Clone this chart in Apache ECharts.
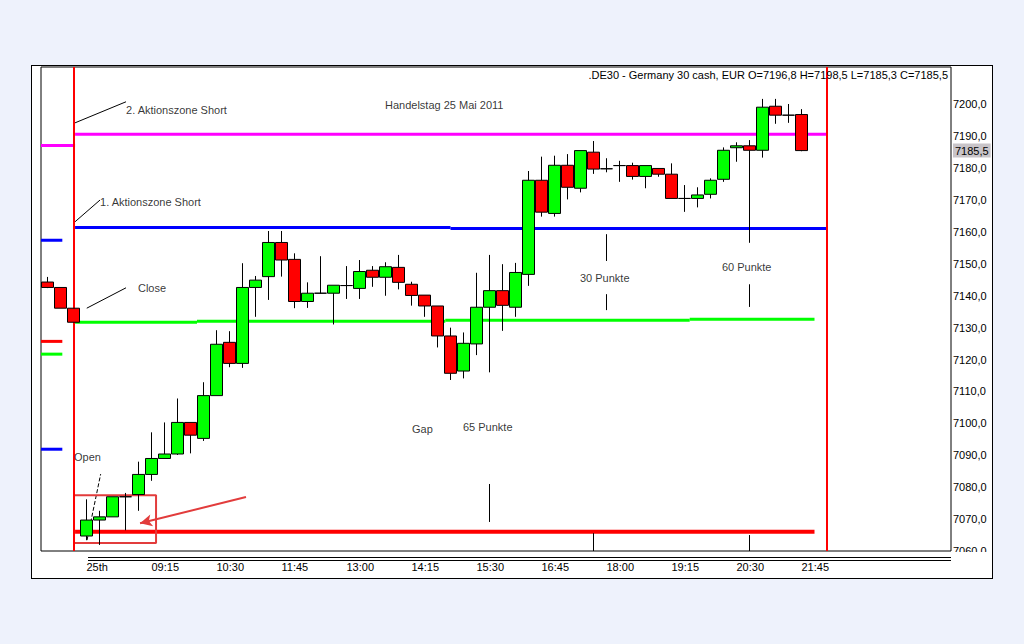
<!DOCTYPE html>
<html><head><meta charset="utf-8">
<script src="https://cdn.jsdelivr.net/npm/echarts@6/dist/echarts.min.js"></script>
<style>
html,body{margin:0;padding:0;background:#EEF2FC;width:1024px;height:644px;overflow:hidden;}
#frame{position:absolute;left:31px;top:65px;width:962px;height:514px;border:1px solid #000;background:#fff;box-sizing:border-box;}
#chart{position:absolute;left:0;top:0;width:1024px;height:644px;}
</style></head><body>
<div id="frame"></div><div id="chart"></div>
<script>
// ---- data (15-minute candles, 24 May last 3 bars + 25 May 2011 session) ----
const tickLabels = ['25th','09:15','10:30','11:45','13:00','14:15','15:30','16:45','18:00','19:15','20:30','21:45'];
const opens  = [7144.3,7142.6,7136.1,
  7064.7,7069.7,7070.7,7077.0,7077.7,7084.0,7089.0,7090.4,7100.3,7095.3,
  7108.7,7125.4,7118.8,7142.6,7146.0,7156.7,7151.4,7138.2,7140.8,7140.8,
  7143.2,7142.3,7148.0,7145.8,7148.9,7143.6,7140.2,7136.8,7127.4,7116.4,
  7124.9,7136.4,7141.6,7136.4,7146.7,7176.2,7165.8,7180.9,7173.7,7185.0,
  7179.8,7180.8,7180.8,7177.4,7179.9,7178.1,7170.5,7170.5,7171.8,7176.5,
  7186.4,7187.0,7185.6,7199.4,7196.6,7196.8];
const highs  = [7145.9,7142.6,7136.1,
  7076.2,7072.6,7077.0,7078.2,7088.0,7097.2,7100.3,7107.8,7100.3,7112.9,
  7129.2,7128.9,7150.2,7146.2,7160.3,7160.3,7153.3,7144.2,7152.4,7143.3,
  7149.3,7151.2,7149.3,7150.5,7152.8,7144.4,7140.2,7136.8,7130.0,7128.5,
  7147.2,7152.8,7149.9,7150.3,7179.1,7183.6,7183.9,7184.4,7185.5,7188.5,
  7183.1,7182.3,7181.7,7180.8,7179.9,7181.5,7174.7,7174.0,7176.8,7186.5,
  7188.1,7188.8,7201.7,7201.7,7200.1,7198.5];
const lows   = [7142.4,7136.1,7131.7,
  7063.4,7061.9,7070.7,7066.5,7072.6,7082.0,7089.0,7090.1,7090.6,7094.5,
  7108.7,7117.6,7117.4,7133.4,7138.7,7146.0,7136.1,7136.2,7140.7,7131.0,
  7139.0,7139.0,7142.8,7140.0,7142.0,7136.9,7133.4,7123.8,7113.6,7114.1,
  7121.4,7116.0,7129.0,7133.4,7143.1,7164.8,7164.8,7170.2,7172.4,7178.2,
  7178.7,7175.7,7176.4,7173.7,7177.3,7170.5,7166.3,7167.7,7170.5,7175.7,
  7182.0,7156.6,7183.3,7193.9,7194.2,7185.3];
const closes = [7142.6,7136.1,7131.7,
  7069.7,7070.7,7077.0,7077.0,7084.0,7089.0,7090.4,7100.3,7096.3,7108.7,
  7124.8,7118.8,7142.6,7144.9,7156.7,7151.2,7138.2,7140.8,7140.8,7143.3,
  7143.2,7147.6,7145.8,7149.1,7144.2,7140.1,7136.8,7127.4,7115.7,7125.1,
  7136.4,7141.6,7137.0,7147.3,7176.2,7166.2,7180.9,7174.0,7185.5,7179.7,
  7179.8,7180.8,7177.4,7180.8,7178.1,7170.5,7170.5,7171.6,7176.2,7185.6,
  7187.0,7185.6,7199.1,7196.6,7196.6,7185.5];
const lastPrice = 7185.5;
// horizontal levels
const levelMagenta = 7190.6, levelMagentaPrev = 7187.1;
const levelBlue = [7161.4, 7161.1], levelBluePrev = [7157.4, 7091.9];
const levelGreen = [7131.7, 7132.0, 7132.3, 7132.6], levelGreenPrev = 7121.7;
const levelRedPrev = 7125.7, levelRed = 7066.0;
// annotations [bar index, price]
const annoTexts = [
  {name:'2. Aktionszone Short', value:[3.04,7198.2]},
  {name:'1. Aktionszone Short', value:[1.04,7169.4]},
  {name:'Close', value:[3.96,7142.4]},
  {name:'Open', value:[-0.96,7089.4]},
  {name:'Handelstag 25 Mai 2011', value:[22.96,7199.8]},
  {name:'Gap', value:[25.04,7098.2]},
  {name:'65 Punkte', value:[28.96,7098.8]},
  {name:'30 Punkte', value:[37.96,7145.6]},
  {name:'60 Punkte', value:[48.88,7149.0]}
];
const annoLines = [
  [[-0.88,7194.2],[3.04,7200.8]],
  [[-0.88,7163.2],[1.04,7170.0]],
  [[0.02,7136.1],[3.04,7142.5]],
  [[31,7081.0],[31,7069.1]],
  [[40,7159.3],[40,7150.9]],
  [[40,7140.5],[40,7135.5]],
  [[51,7143.6],[51,7136.5]],
  [[39,7065.6],[39,7060]],
  [[51,7065.0],[51,7060]]
];
const openLine = [[0.04,7063.4],[1.09,7084.1]];
const openBox = [[-0.96,7077.5],[5.35,7077.5],[5.35,7062.5],[-0.96,7062.5],[-0.96,7077.5]];
const arrowFrom = [12.27,7076.9], arrowTo = [4.12,7068.7];
const sessionStart = -0.96, sessionEnd = 56.95;

// ---- build ----
const FONT = 'Liberation Sans';
const categories = [];
for (let i = -3; i <= 66; i++) {
  const m = i < 0 ? 22*60 + i*15 : 8*60 + i*15;
  categories.push(String(Math.floor(m/60)).padStart(2,'0') + ':' + String(m%60).padStart(2,'0'));
}
const candleData = opens.map((o,i)=>[o, closes[i], lows[i], highs[i]]);

function seg(x0,x1,y,color,w){
  return {type:'line', xAxisIndex:1, yAxisIndex:0, symbol:'none', silent:true, z:3,
    data:[[x0,y],[x1,y]], lineStyle:{color:color, width:w}};
}
function poly(pts,color,w,type){
  return {type:'line', xAxisIndex:1, yAxisIndex:0, symbol:'none', silent:true, z:4,
    data:pts, lineStyle:{color:color, width:w, type:type||'solid'}};
}
const series = [];
series.push({
  type:'candlestick', xAxisIndex:0, yAxisIndex:0, data:candleData, barWidth:13, z:5,
  itemStyle:{color:'#00FF00', color0:'#FF0000', borderColor:'#000', borderColor0:'#000', borderWidth:1}
});
// levels
series.push(seg(-3.5,-0.88,levelMagentaPrev,'#FF00FF',3));
series.push(seg(-0.88,57.0,levelMagenta,'#FF00FF',3));
series.push(seg(-3.5,-1.86,levelBluePrev[0],'#0000FF',3));
series.push(seg(-3.5,-1.86,levelBluePrev[1],'#0000FF',3));
series.push(seg(-0.88,28.0,levelBlue[0],'#0000FF',3));
series.push(seg(28.0,57.0,levelBlue[1],'#0000FF',3));
series.push(seg(-3.5,-1.86,levelGreenPrev,'#00FF00',3));
series.push(seg(-3.5,-1.86,levelRedPrev,'#FF0000',3));
const greenBreaks = [-0.88,8.5,27.6,46.4,56.0];
levelGreen.forEach((v,k)=>series.push(seg(greenBreaks[k],greenBreaks[k+1],v,'#00FF00',3)));
series.push(seg(-0.88,56.0,levelRed,'#FF0000',4));
// last price tag on the price axis
series.push({type:'line', xAxisIndex:1, yAxisIndex:0, data:[[66.5,lastPrice]], symbol:'none', silent:true, z:10,
  lineStyle:{width:0},
  endLabel:{show:true, distance:2, formatter:()=>lastPrice.toFixed(1).replace('.',','),
    backgroundColor:'#C8C4C8', color:'#000', fontSize:11, fontFamily:FONT, padding:[2,2,1,2]}});
// vertical session lines
series.push({type:'line', xAxisIndex:1, yAxisIndex:0, data:[], silent:true,
  markLine:{silent:true, symbol:'none', label:{show:false}, lineStyle:{color:'#FF0000', width:2, type:'solid'},
    data:[{xAxis:sessionStart},{xAxis:sessionEnd}]}});
// annotation lines
annoLines.forEach(p=>series.push(poly(p,'#000',1)));
series.push(poly(openLine,'#000',1,'dashed'));
// box + arrow
series.push(Object.assign(poly(openBox,'#E23C3C',2),{
  markLine:{silent:true, symbol:['none','arrow'], symbolSize:[9,12], label:{show:false},
    lineStyle:{color:'#E23C3C', width:2, type:'solid'},
    data:[[{coord:arrowFrom},{coord:arrowTo}]]}
}));
// texts
series.push({type:'scatter', xAxisIndex:1, yAxisIndex:0, symbolSize:0, silent:true, z:6,
  itemStyle:{color:'rgba(0,0,0,0)'},
  data:annoTexts,
  label:{show:true, position:'right', distance:0, formatter:(p)=>p.name, color:'#000', fontSize:11, fontFamily:FONT}});

const chart = echarts.init(document.getElementById('chart'), null, {renderer:'svg'});
chart.setOption({
  animation:false,
  backgroundColor:'transparent',
  title:{text:'.DE30 - Germany 30 cash, EUR O=7196,8 H=7198,5 L=7185,3 C=7185,5', right:76, top:69, padding:0,
    textStyle:{fontSize:11, fontWeight:'normal', color:'#000', fontFamily:FONT}},
  grid:{left:41, right:73, top:67, bottom:93, show:true, borderColor:'#000', borderWidth:1, backgroundColor:'#fff'},
  xAxis:[
    {type:'category', data:categories, boundaryGap:true, axisLine:{show:false}, axisTick:{show:false}, splitLine:{show:false},
      axisLabel:{color:'#000', fontSize:11, fontFamily:FONT, margin:10, align:'left',
        interval:(idx)=>{const i=idx-3; return i>=0 && i<=55 && i%5===0;},
        formatter:(v,idx)=>{const i=idx-3; return (i>=0 && i%5===0 && tickLabels[i/5]) ? tickLabels[i/5] : '';}}},
    {type:'value', min:-3.5, max:66.5, show:false}
  ],
  yAxis:[{type:'value', position:'right', min:7060, max:7211.7, interval:10, scale:true,
    axisLine:{show:false}, axisTick:{show:false}, splitLine:{show:false},
    axisLabel:{color:'#000', fontSize:11, fontFamily:FONT, margin:2, showMaxLabel:false,
      formatter:(v)=> v>7205 ? '' : v.toFixed(1).replace('.',',')}}],
  graphic:[
    {type:'line', z:100, shape:{x1:88,y1:557.5,x2:951,y2:557.5}, style:{stroke:'#000', lineWidth:1}},
    {type:'line', z:100, shape:{x1:88,y1:560.5,x2:951,y2:560.5}, style:{stroke:'#000', lineWidth:1}},
    {type:'rect', z:100, shape:{x:952,y:552,width:39,height:24}, style:{fill:'#fff'}}
  ],
  series:series
});
</script>
</body></html>
